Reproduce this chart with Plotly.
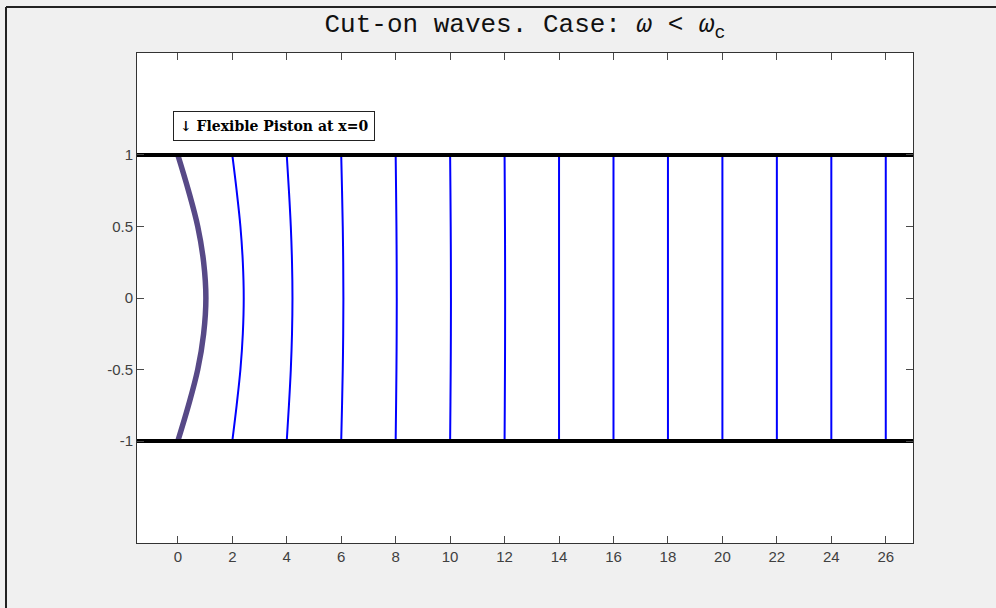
import plotly.graph_objects as go

# ---- data ----
line_x0 = [0, 2, 4, 6, 8, 10, 12, 14, 16, 18, 20, 22, 24, 26]
line_bulge = [1.03, 0.42, 0.21, 0.08, 0.04, 0.03, 0.02, 0, 0, 0, 0, 0, 0, 0]
profile_y = [-1, -0.75, -0.5, -0.25, 0, 0.25, 0.5, 0.75, 1]
profile_shape = [0, 0.38, 0.71, 0.92, 1, 0.92, 0.71, 0.38, 0]
wall_y = [-1, 1]
x_ticks = [0, 2, 4, 6, 8, 10, 12, 14, 16, 18, 20, 22, 24, 26]
y_ticks = [-1, -0.5, 0, 0.5, 1]
x_range = [-1.5, 27]
y_range = [-1.713, 1.713]
title_text = "Cut-on waves. Case: <i>ω</i> < <i>ω</i><sub>c</sub>"
note_text = "↓ Flexible Piston at x=0"

fig = go.Figure()

# wave fronts (blue), piston (purple) drawn first
for x0, b in zip(line_x0[1:], line_bulge[1:]):
    fig.add_trace(go.Scatter(
        x=[x0 + b * s for s in profile_shape], y=profile_y,
        mode="lines", line=dict(color="#0000FF", width=2, shape="spline"),
        hoverinfo="skip", showlegend=False))

fig.add_trace(go.Scatter(
    x=[line_x0[0] + line_bulge[0] * s for s in profile_shape], y=profile_y,
    mode="lines", line=dict(color="#574987", width=5.5, shape="spline"),
    hoverinfo="skip", showlegend=False))

# duct walls
for wy in wall_y:
    fig.add_trace(go.Scatter(
        x=x_range, y=[wy, wy], mode="lines",
        line=dict(color="black", width=4),
        hoverinfo="skip", showlegend=False))

W, H = 996, 608
ml, mr, mt, mb = 137, 83, 53, 65
pw, ph = W - ml - mr, H - mt - mb

fig.update_layout(
    width=W, height=H,
    margin=dict(l=ml, r=mr, t=mt, b=mb),
    paper_bgcolor="#F0F0F0",
    plot_bgcolor="white",
    title=dict(text=title_text, xref="paper", x=0.5, xanchor="center",
               yref="container", y=1 - 23 / H, yanchor="middle",
               font=dict(family="Liberation Mono", size=26, color="#111111")),
    xaxis=dict(range=x_range, tickvals=x_ticks, ticktext=[str(v) for v in x_ticks],
               ticks="inside", ticklen=7, tickcolor="#4a4a4a", tickwidth=1,
               showline=True, linecolor="#333333", linewidth=1, mirror="ticks",
               showgrid=False, zeroline=False,
               tickfont=dict(family="Liberation Sans", size=15, color="#404040")),
    yaxis=dict(range=y_range, tickvals=y_ticks, ticktext=["-1", "-0.5", "0", "0.5", "1"],
               ticks="inside", ticklen=7, tickcolor="#4a4a4a", tickwidth=1,
               showline=True, linecolor="#333333", linewidth=1, mirror="ticks",
               showgrid=False, zeroline=False,
               tickfont=dict(family="Liberation Sans", size=15, color="#404040")),
    annotations=[dict(text=note_text, xref="x", yref="y", x=-0.18, y=1.2,
                      xanchor="left", yanchor="middle", showarrow=False,
                      font=dict(family="DejaVu Serif", size=14, color="black",
                                weight="bold"),
                      bgcolor="white", bordercolor="#222222", borderwidth=1,
                      borderpad=6)],
    shapes=[
        dict(type="line", xref="paper", yref="paper",
             x0=(6 - ml) / pw, x1=(6 - ml) / pw,
             y0=-(mb + 5) / ph, y1=1 + (mt - 7) / ph,
             line=dict(color="#222222", width=2)),
        dict(type="line", xref="paper", yref="paper",
             x0=(6 - ml) / pw, x1=(W + 5 - ml) / pw,
             y0=1 + (mt - 7) / ph, y1=1 + (mt - 7) / ph,
             line=dict(color="#222222", width=2)),
    ],
)

fig.write_html(
    "out.html",
    config={"displayModeBar": False},
    post_script="document.body.style.margin='0';document.body.style.background='#F0F0F0';",
)
